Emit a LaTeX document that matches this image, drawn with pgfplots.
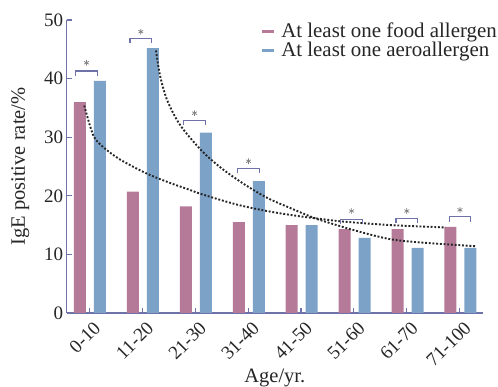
\documentclass[border=0pt]{standalone}
\usepackage{fontspec}
\setmainfont{Liberation Serif}
\usepackage{pgfplots}
\pgfplotsset{compat=1.18}
\definecolor{pinkbar}{RGB}{180,122,152}
\definecolor{bluebar}{RGB}{124,162,200}
\definecolor{axiscol}{RGB}{110,114,168}
\begin{document}
\begin{tikzpicture}
\begin{axis}[
  scale only axis, width=416.3pt, height=293pt,
  xmin=-0.427, xmax=7.44, ymin=0, ymax=50,
  axis x line*=bottom, axis y line*=left,
  axis line style={axiscol, line width=1.1pt, -},
  tick style={axiscol, line width=1.1pt},
  tick align=inside, major tick length=5pt,
  xtick={0,...,7},
  xticklabels={0-10,11-20,21-30,31-40,41-50,51-60,61-70,71-100},
  ytick={0,10,...,50},
  /pgf/number format/assume math mode=true,
  ticklabel style={font=\fontsize{19}{22}\selectfont, text=black!85},
  xticklabel style={xshift=8pt, yshift=-12pt, rotate=45, anchor=east, inner sep=0pt},
  xlabel={Age/yr.}, ylabel={IgE positive rate/\%},
  label style={font=\fontsize{20.5}{24}\selectfont, inner sep=0pt, text=black!85},
  xlabel style={at={(axis description cs:0.5,-0.2372)}, anchor=base},
  ylabel style={at={(axis description cs:-0.1002,0.5)}, anchor=base},
  legend style={draw=none, fill=none, at={(axis description cs:1.036,0.993)}, anchor=north east,
    font=\fontsize{20.9}{24}\selectfont, inner sep=0pt, row sep=1pt, column sep=6pt,
    nodes={inner sep=1pt, text=black!85}},
  legend cell align=left,
]
\addplot[ybar, bar width=12pt, bar shift=-9.3pt, fill=pinkbar, draw=none,
  legend image code/.code={\fill[pinkbar] (0pt,-1.5pt) rectangle (12pt,1.5pt);}]
  coordinates {(0,36.0) (1,20.7) (2,18.2) (3,15.5) (4,15.0) (5,14.3) (6,14.3) (7,14.7)};
\addlegendentry{At least one food allergen}
\addplot[ybar, bar width=12pt, bar shift=10.7pt, fill=bluebar, draw=none,
  legend image code/.code={\fill[bluebar] (0pt,-1.5pt) rectangle (12pt,1.5pt);}]
  coordinates {(0,39.6) (1,45.2) (2,30.8) (3,22.5) (4,15.0) (5,12.8) (6,11.1) (7,11.1)};
\addlegendentry{At least one aeroallergen}
% trend curves
\addplot[smooth, black!85, line width=1.9pt, dash pattern=on 1.9pt off 1.8pt, forget plot]
  coordinates {(-0.095,35.4) (0.076,30.3) (0.265,28.3) (0.58,26.2) (1.085,23.8) (1.525,22.2) (1.84,21.2) (2.15,20.2) (2.79,18.5) (3.416,17.3) (3.98,16.5) (4.42,16.0) (4.80,15.6) (5.69,15.0) (6.73,14.6)};
\addplot[smooth, black!85, line width=1.9pt, dash pattern=on 1.9pt off 1.8pt, forget plot]
  coordinates {(1.26,44.8) (1.337,40.5) (1.463,36.5) (1.652,33.0) (1.84,30.6) (2.155,27.4) (2.47,24.9) (2.79,22.8) (3.10,21.0) (3.416,19.4) (3.80,17.9) (4.17,16.5) (4.42,15.7) (5.055,14.0) (5.684,12.6) (6.31,12.0) (7.29,11.4)};
% brackets
\addplot[axiscol, line width=1.1pt, forget plot] coordinates {(-0.257,40.5) (-0.257,41.3) (0.151,41.3) (0.151,40.5)};
\addplot[axiscol, line width=1.1pt, forget plot] coordinates {(0.770,46.0) (0.770,46.8) (1.178,46.8) (1.178,46.0)};
\addplot[axiscol, line width=1.1pt, forget plot] coordinates {(1.785,32.0) (1.785,32.8) (2.193,32.8) (2.193,32.0)};
\addplot[axiscol, line width=1.1pt, forget plot] coordinates {(2.805,23.9) (2.805,24.7) (3.213,24.7) (3.213,23.9)};
\addplot[axiscol, line width=1.1pt, forget plot] coordinates {(4.753,15.2) (4.753,16.0) (5.161,16.0) (5.161,15.2)};
\addplot[axiscol, line width=1.1pt, forget plot] coordinates {(5.796,15.4) (5.796,16.2) (6.204,16.2) (6.204,15.4)};
\addplot[axiscol, line width=1.1pt, forget plot] coordinates {(6.800,15.6) (6.800,16.4) (7.208,16.4) (7.208,15.6)};
% stars
\addplot[only marks, mark=asterisk, mark size=2.8pt, gray, mark options={line width=0.7pt}, forget plot]
  coordinates {(-0.053,42.7) (0.974,48.0) (1.989,34.1) (3.009,25.9) (4.957,17.4) (6.0,17.4) (7.004,17.6)};
\end{axis}
\path ([xshift=-66.7pt,yshift=-74pt]current axis.south west) rectangle ([xshift=15pt,yshift=20pt]current axis.north east);
\end{tikzpicture}
\end{document}
